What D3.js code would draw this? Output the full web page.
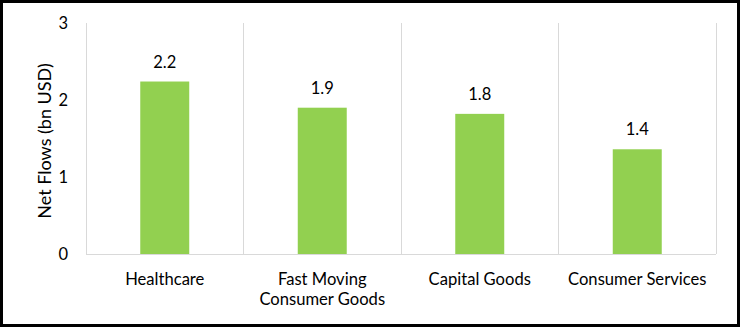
<!DOCTYPE html>
<html><head><meta charset="utf-8">
<script src="https://cdn.jsdelivr.net/npm/d3@7"></script>
<style>body{margin:0;background:#fff}svg{display:block}</style>
</head><body>
<script>
const categories = [["Healthcare"], ["Fast Moving", "Consumer Goods"], ["Capital Goods"], ["Consumer Services"]];
const values = [2.24, 1.9, 1.82, 1.36];
const valueLabels = ["2.2", "1.9", "1.8", "1.4"];
const yTicks = [0, 1, 2, 3];
const yTitle = "Net Flows (bn USD)";

const W = 740, H = 327;
const mLeft = 86, mRight = 716, mTop = 23, mBottom = 254;
const font = "Lato, 'Open Sans', sans-serif";

const svg = d3.select("body").append("svg").attr("width", W).attr("height", H);
svg.append("rect").attr("x", 1.5).attr("y", 1.5).attr("width", W - 3).attr("height", H - 3)
  .attr("fill", "#fff").attr("stroke", "#000").attr("stroke-width", 3);

const x = d3.scaleBand().domain(d3.range(categories.length)).range([mLeft, mRight]).paddingInner(0).paddingOuter(0);
const y = d3.scaleLinear().domain([0, 3]).range([mBottom, mTop]);
const barW = x.bandwidth() * 0.311;

// vertical gridlines
const bounds = d3.range(categories.length + 1).map(i => mLeft + i * x.bandwidth());
svg.selectAll(".vg").data(bounds).enter().append("line")
  .attr("x1", d => d).attr("x2", d => d).attr("y1", mTop).attr("y2", mBottom)
  .attr("stroke", "#d9d9d9").attr("stroke-width", 1).attr("shape-rendering", "crispEdges");
svg.append("line").attr("x1", mLeft).attr("x2", mRight).attr("y1", mBottom).attr("y2", mBottom)
  .attr("stroke", "#d9d9d9").attr("stroke-width", 1).attr("shape-rendering", "crispEdges");

// bars
svg.selectAll(".bar").data(values).enter().append("rect")
  .attr("x", (d, i) => x(i) + x.bandwidth() / 2 - barW / 2)
  .attr("width", barW)
  .attr("y", d => y(d)).attr("height", d => y(0) - y(d))
  .attr("fill", "#92D050");

// value labels
svg.selectAll(".vl").data(values).enter().append("text")
  .attr("x", (d, i) => x(i) + x.bandwidth() / 2)
  .attr("y", d => y(d) - 14)
  .attr("text-anchor", "middle").attr("font-family", font).attr("font-size", 16.5).attr("fill", "#000")
  .text((d, i) => valueLabels[i]);

// y tick labels
svg.selectAll(".yt").data(yTicks).enter().append("text")
  .attr("x", 68).attr("y", d => y(d)).attr("dy", "0.36em")
  .attr("text-anchor", "end").attr("font-family", font).attr("font-size", 16.5).attr("fill", "#000")
  .text(d => d);

// category labels
categories.forEach((lines, i) => {
  const t = svg.append("text").attr("text-anchor", "middle").attr("font-family", font)
    .attr("font-size", 16.6).attr("fill", "#000");
  lines.forEach((ln, j) => {
    t.append("tspan").attr("x", x(i) + x.bandwidth() / 2).attr("y", 285 + j * 20).text(ln);
  });
});

// y title
svg.append("text").attr("transform", `translate(51,141) rotate(-90)`)
  .attr("text-anchor", "middle").attr("font-family", font).attr("font-size", 18).attr("fill", "#000")
  .text(yTitle);
</script>
</body></html>
